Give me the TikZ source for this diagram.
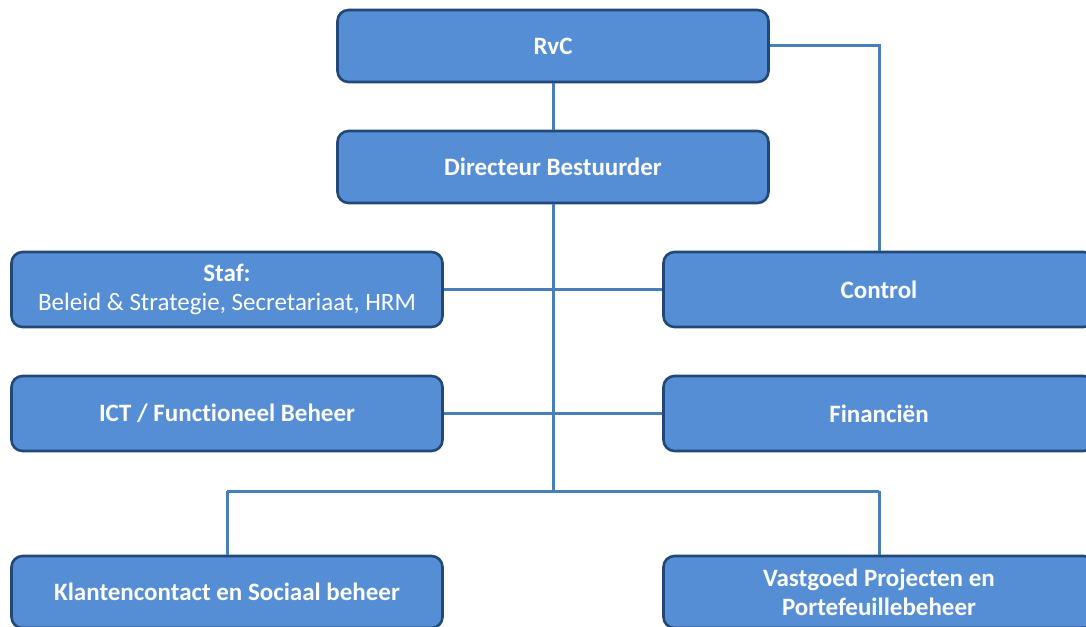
\documentclass[tikz,border=0pt]{standalone}
\usepackage{fontspec}
\setmainfont[Ligatures=NoCommon]{Carlito}
\definecolor{boxfill}{HTML}{558ED5}
\definecolor{boxline}{HTML}{22487A}
\definecolor{conn}{HTML}{4A7EBB}
\begin{document}
\begin{tikzpicture}[x=1pt,y=-1pt,
  orgbox/.style={draw=boxline,fill=boxfill,line width=2.6pt,rounded corners=11pt,
    minimum width=431pt,minimum height=72pt,text=white,align=center,inner sep=0pt,
    font=\fontsize{25}{29}\selectfont},
  link/.style={draw=conn,line width=3pt}]
\useasboundingbox (0,0) rectangle (1086,626);
\clip (0,0) rectangle (1086,626);
\coordinate (j) at (553,491);
\coordinate (jl) at (227,491);
\coordinate (jr) at (879,491);
\coordinate (rc) at (879,46);
\node[orgbox] (rvc) at (553,46) {\bfseries RvC};
\node[orgbox] (dir) at (553,167) {\bfseries Directeur Bestuurder};
\node[orgbox,minimum height=75pt] (staf) at (227,289.5) {\bfseries Staf:\\Beleid \& Strategie, Secretariaat, HRM};
\node[orgbox,minimum height=75pt] (ctrl) at (879,289.5) {\bfseries Control};
\node[orgbox,minimum height=75pt] (ict) at (227,413.5) {\bfseries ICT / Functioneel Beheer};
\node[orgbox,minimum height=75pt] (fin) at (879,413.5) {\bfseries Financiën};
\node[orgbox] (kl) at (227,592) {\bfseries Klantencontact en Sociaal beheer};
\node[orgbox] (vg) at (879,592) {\bfseries Vastgoed Projecten en\\\bfseries Portefeuillebeheer};
\path[link] (rvc.south) -- (dir.north);
\path[link] (dir.south) -- (j);
\path[link] (staf.east) -- (ctrl.west);
\path[link] (ict.east) -- (fin.west);
\path[link] (jl) -- (jr);
\path[link] (jl) -- (kl.north);
\path[link] (jr) -- (vg.north);
\path[link] (rvc.east) -- (rc) -- (ctrl.north);
\end{tikzpicture}
\end{document}
